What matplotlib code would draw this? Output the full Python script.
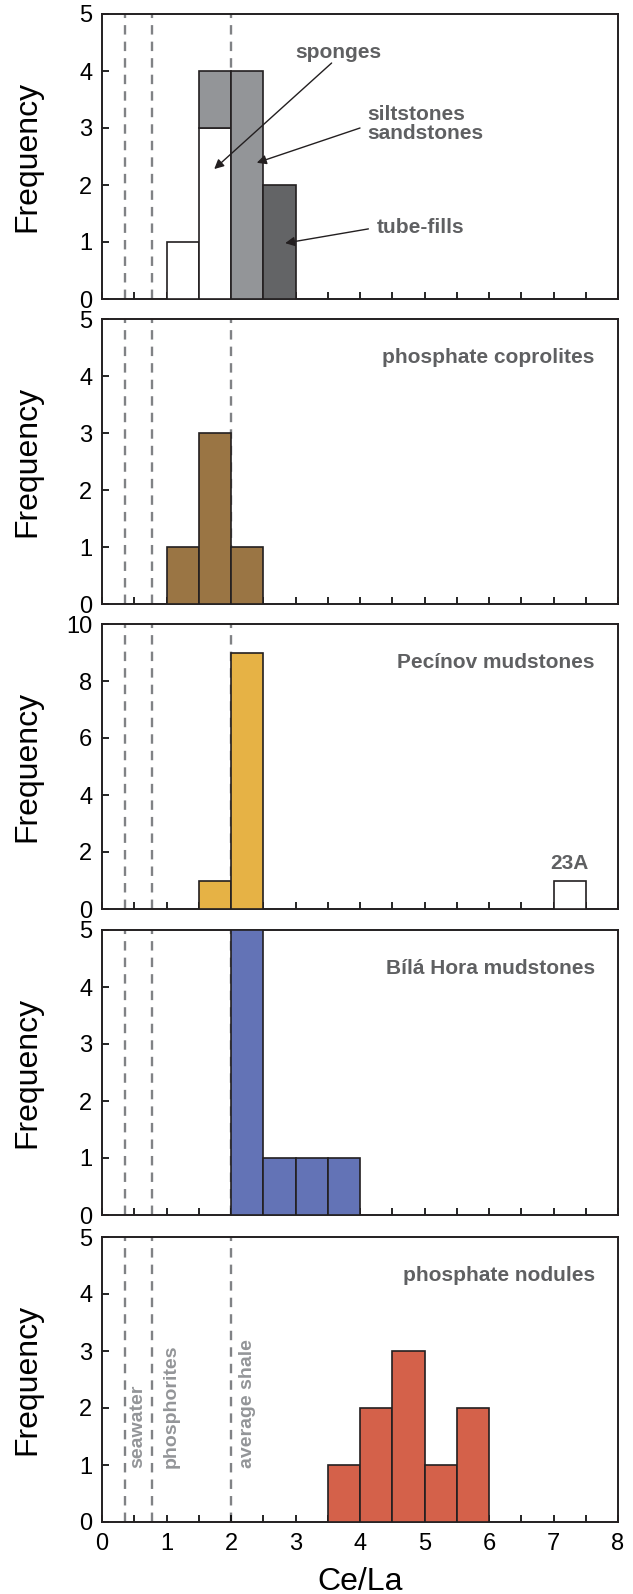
import matplotlib
matplotlib.use("Agg")
import matplotlib.pyplot as plt
import numpy as np

# bin width of the Ce/La histograms
bin_w = 0.5

# top panel: sponges / siltstones+sandstones / tube-fills (stacked)
sponge_x = [1.0, 1.5]
sponge_n = [1, 3]
silt_x = [1.5, 2.0]
silt_n = [1, 4]
tube_x = [2.5]
tube_n = [2]

copro_x = [1.0, 1.5, 2.0]
copro_n = [1, 3, 1]

pecinov_x = [1.5, 2.0]
pecinov_n = [1, 9]
outlier_x = [7.0]
outlier_n = [1]
outlier_lbl = "23A"

bila_x = [2.0, 2.5, 3.0, 3.5]
bila_n = [5, 1, 1, 1]

nodule_x = [3.5, 4.0, 4.5, 5.0, 5.5]
nodule_n = [1, 2, 3, 1, 2]

ref_vals = [0.35, 0.78, 2.0]
ref_names = ["seawater", "phosphorites", "average shale"]

titles = ["", "phosphate coprolites", "Pecínov mudstones", "Bílá Hora mudstones",
          "phosphate nodules"]

plt.rcParams["font.family"] = ["Liberation Sans", "DejaVu Sans"]
LBL_COL = "#5f6062"
EDGE = "#231f20"

fig = plt.figure(figsize=(6.33, 15.94), dpi=100)
W, H = 633, 1594
left, right = 102, 618
tops = [14, 319, 624, 930, 1237]
ph = 285
axes = []
for t in tops:
    ax = fig.add_axes([left / W, 1 - (t + ph) / H, (right - left) / W, ph / H])
    axes.append(ax)


def bars(ax, x, n, color, bottom=None):
    ax.bar(x, n, width=bin_w, align="edge", bottom=bottom, color=color,
           edgecolor=EDGE, linewidth=1.2, zorder=3)


def label(ax, x, y, s, **kw):
    kw.setdefault("fontsize", 15)
    ax.text(x, y, s, fontweight="bold", color=kw.pop("color", LBL_COL), **kw)


for ax in axes:
    for v in ref_vals:
        ax.axvline(v, color="#808285", ls=(0, (4, 3)), lw=1.7, zorder=1)
    ax.set_xlim(0, 8)
    ax.set_xticks(np.arange(0, 8.01, 1))
    ax.set_xticks(np.arange(0, 8.01, 0.5), minor=True)
    ax.tick_params(axis="x", which="both", direction="in", length=5, width=1.2,
                   top=False, labelsize=17, pad=8)
    ax.tick_params(axis="y", direction="in", length=5, width=1.2, right=False,
                   labelsize=17, pad=7)
    ax.set_ylabel("Frequency", fontsize=23)
    ax.yaxis.set_label_coords(-0.115, 0.5)
    for s in ax.spines.values():
        s.set_linewidth(1.4)
        s.set_color(EDGE)
    if ax is not axes[-1]:
        ax.tick_params(axis="x", labelbottom=False)

# panel 1
ax = axes[0]
bars(ax, sponge_x, sponge_n, "white")
base = dict(zip(sponge_x, sponge_n))
bars(ax, silt_x, silt_n, "#939598", bottom=[base.get(x, 0) for x in silt_x])
bars(ax, tube_x, tube_n, "#636466")
ax.set_ylim(0, 5)
ax.set_yticks(range(0, 6))
arrow = dict(arrowstyle="-|>", color=EDGE, lw=1.0, mutation_scale=14,
             shrinkA=0, shrinkB=0)
ax.annotate("", xy=(1.74, 2.28), xytext=(3.56, 4.14), arrowprops=arrow)
label(ax, 3.66, 4.33, "sponges", ha="center", va="center")
ax.annotate("", xy=(2.40, 2.39), xytext=(4.0, 3.0), arrowprops=arrow)
label(ax, 4.12, 3.07, "siltstones\nsandstones", ha="left", va="center",
      linespacing=0.95)
ax.annotate("", xy=(2.84, 0.98), xytext=(4.13, 1.23), arrowprops=arrow)
label(ax, 4.26, 1.25, "tube-fills", ha="left", va="center")

# panel 2
ax = axes[1]
bars(ax, copro_x, copro_n, "#9a7544")
ax.set_ylim(0, 5)
ax.set_yticks(range(0, 6))

# panel 3
ax = axes[2]
bars(ax, pecinov_x, pecinov_n, "#e6b245")
bars(ax, outlier_x, outlier_n, "white")
for x, n in zip(outlier_x, outlier_n):
    label(ax, x + bin_w / 2, n + 0.25, outlier_lbl, ha="center", va="bottom")
ax.set_ylim(0, 10)
ax.set_yticks(range(0, 11, 2))

# panel 4
ax = axes[3]
bars(ax, bila_x, bila_n, "#6373b6")
ax.set_ylim(0, 5)
ax.set_yticks(range(0, 6))

# panel 5
ax = axes[4]
bars(ax, nodule_x, nodule_n, "#d4614a")
ax.set_ylim(0, 5)
ax.set_yticks(range(0, 6))
offs = [0.2, 0.3, 0.25]
for v, name, o in zip(ref_vals, ref_names, offs):
    label(ax, v + o, 0.95, name, rotation=90, ha="center", va="bottom",
          fontsize=14, color="#939598")

for ax, t in zip(axes, titles):
    if t:
        label(ax, 0.955, 0.865, t, transform=ax.transAxes, ha="right",
              va="center")

fig.text((left + right) / 2 / W, 1 - 1590 / H, "Ce/La", fontsize=23,
         ha="center", va="baseline")

fig.savefig("out.png", dpi=100)
